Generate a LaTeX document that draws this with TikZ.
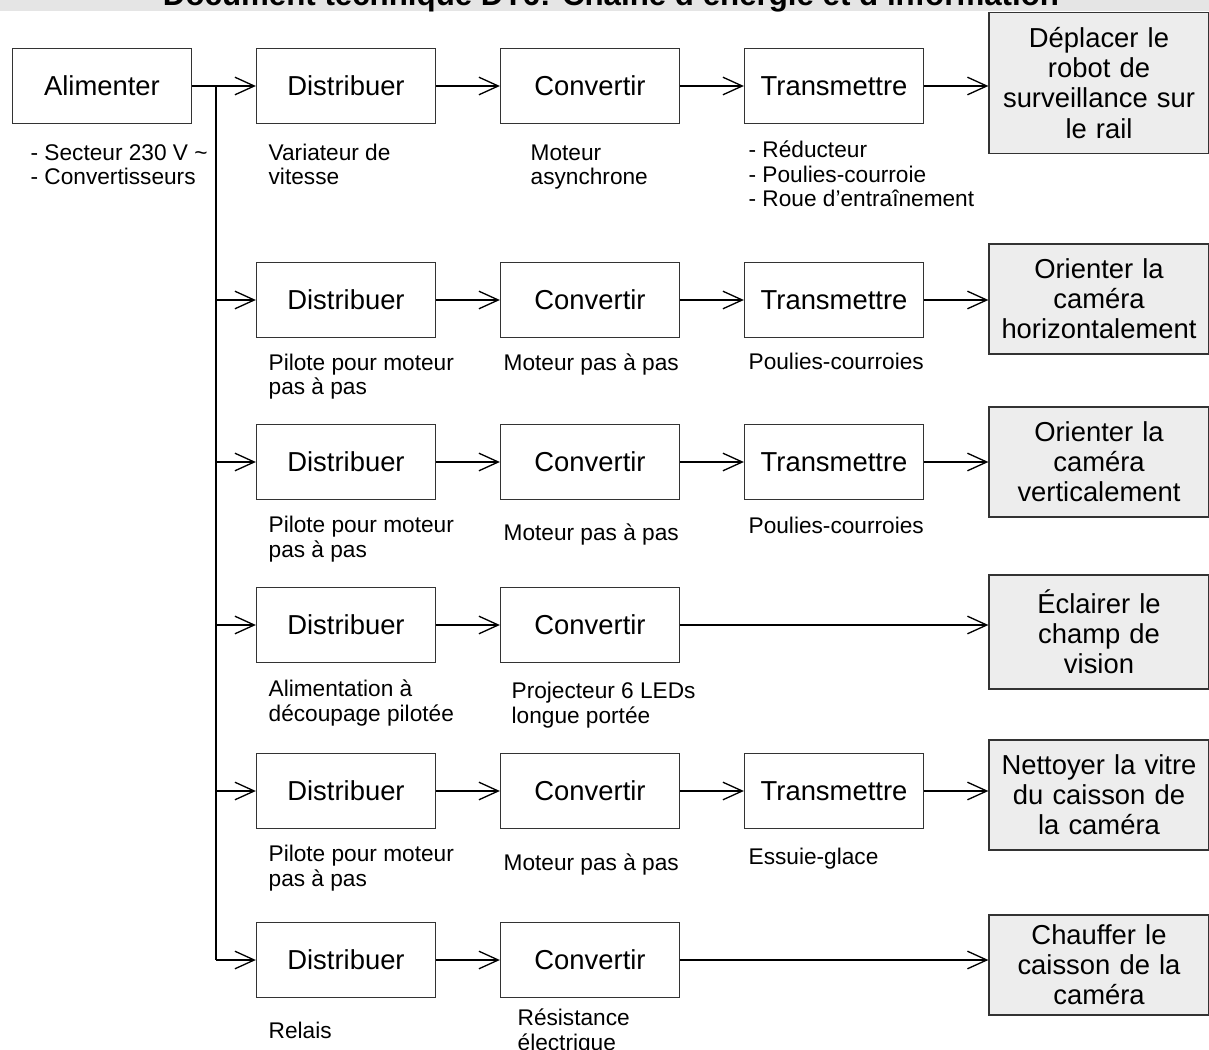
\documentclass[tikz,border=0pt]{standalone}
\usepackage{fontspec}
\setmainfont{Liberation Sans}
\usetikzlibrary{arrows.meta}

\def \grand {\fontsize{15.6}{17.1}\selectfont}
\def \petit {\fontsize{12.9}{14.2}\selectfont}

\begin{document}
\begin{tikzpicture}[x=0.02cm, y=-0.02cm, line width=0.75pt,
  bloc/.style={draw=black!80, minimum width=3.58cm, minimum height=1.5cm, font=\grand},
  but/.style={draw=black!80, fill=black!7, text width=4.2cm, align=center, inner xsep=0.1cm, inner ysep=0.3cm, font=\grand},
  info/.style={anchor=base west, align=left, inner sep=0pt, font=\petit},
  fl/.style={-{Straight Barb[length=11pt, width=10pt]}}]

\useasboundingbox (0,0) rectangle (1209,1050);
\clip (0,0) rectangle (1209,1050);

% bandeau du titre
\fill[black!10] (0,0) rectangle (1209,11);
\node[anchor=base, font=\fontsize{17.8}{20}\bfseries\selectfont] (titre) at (611,6) {Document technique DT6: Chaîne d'énergie et d'information};

\node[bloc] (alim) at (102,86) {Alimenter};

\begin{scope}[every node/.style={bloc}]
\node(d1) at (346,86) {Distribuer};
\node(c1) at (590,86) {Convertir};
\node(t1) at (834,86) {Transmettre};
\node(d2) at (346,300) {Distribuer};
\node(c2) at (590,300) {Convertir};
\node(t2) at (834,300) {Transmettre};
\node(d3) at (346,462) {Distribuer};
\node(c3) at (590,462) {Convertir};
\node(t3) at (834,462) {Transmettre};
\node(d4) at (346,625) {Distribuer};
\node(c4) at (590,625) {Convertir};
\node(d5) at (346,791) {Distribuer};
\node(c5) at (590,791) {Convertir};
\node(t5) at (834,791) {Transmettre};
\node(d6) at (346,960) {Distribuer};
\node(c6) at (590,960) {Convertir};
\end{scope}

\begin{scope}[every node/.style={but}]
\node(f1) at (1099,83) {Déplacer le\\robot de\\surveillance sur\\le rail};
\node(f2) at (1099,299) {Orienter la\\caméra\\horizontalement};
\node(f3) at (1099,462) {Orienter la\\caméra\\verticalement};
\node(f4) at (1099,632) {Éclairer le\\champ de\\vision};
\node(f5) at (1099,795) {Nettoyer la vitre\\du caisson de\\la caméra};
\node(f6) at (1099,965) [inner ysep=0.2cm] {Chauffer le\\caisson de la\\caméra};
\end{scope}

% textes sous les blocs (base = derniere ligne)
\node[info] (lalim) at (30,185) {- Secteur 230 V \char`\~\\- Convertisseurs};
\node[info] (ld1) at (268,185) {Variateur de\\vitesse};
\node[info] (lc1) at (530,185) {Moteur\\asynchrone};
\node[info] (lt1) at (748,207) {- Réducteur\\- Poulies-courroie\\- Roue d’entraînement};
\node[info] (ld2) at (268,395) {Pilote pour moteur\\pas à pas};
\node[info] (lc2) at (503,371) {Moteur pas à pas};
\node[info] (lt2) at (748,370) {Poulies-courroies};
\node[info] (ld3) at (268,557) {Pilote pour moteur\\pas à pas};
\node[info] (lc3) at (503,540) {Moteur pas à pas};
\node[info] (lt3) at (748,533) {Poulies-courroies};
\node[info] (ld4) at (268,721) {Alimentation à\\découpage pilotée};
\node[info] (lc4) at (511,723) {Projecteur 6 LEDs\\longue portée};
\node[info] (ld5) at (268,886) {Pilote pour moteur\\pas à pas};
\node[info] (lc5) at (503,870) {Moteur pas à pas};
\node[info] (lt5) at (748,864) {Essuie-glace};
\node[info] (ld6) at (268,1038) {Relais};
\node[info] (lc6) at (517,1050) {Résistance\\électrique};

\coordinate (bus) at (216,86);

\begin{scope}[fl]
\draw (alim) -- (d1);
\draw (d1) -- (c1);
\draw (c1) -- (t1);
\draw (t1.east) -- (t1.east -| f1.west);
\draw (bus |- d2.west) -- (d2);
\draw (d2) -- (c2);
\draw (c2) -- (t2);
\draw (t2.east) -- (t2.east -| f2.west);
\draw (bus |- d3.west) -- (d3);
\draw (d3) -- (c3);
\draw (c3) -- (t3);
\draw (t3.east) -- (t3.east -| f3.west);
\draw (bus |- d4.west) -- (d4);
\draw (d4) -- (c4);
\draw (c4.east) -- (c4.east -| f4.west);
\draw (bus |- d5.west) -- (d5);
\draw (d5) -- (c5);
\draw (c5) -- (t5);
\draw (t5.east) -- (t5.east -| f5.west);
\draw (bus |- d6.west) -- (d6);
\draw (d6) -- (c6);
\draw (c6.east) -- (c6.east -| f6.west);
\end{scope}

\draw (bus) -- (bus |- d6.west);

\end{tikzpicture}
\end{document}
